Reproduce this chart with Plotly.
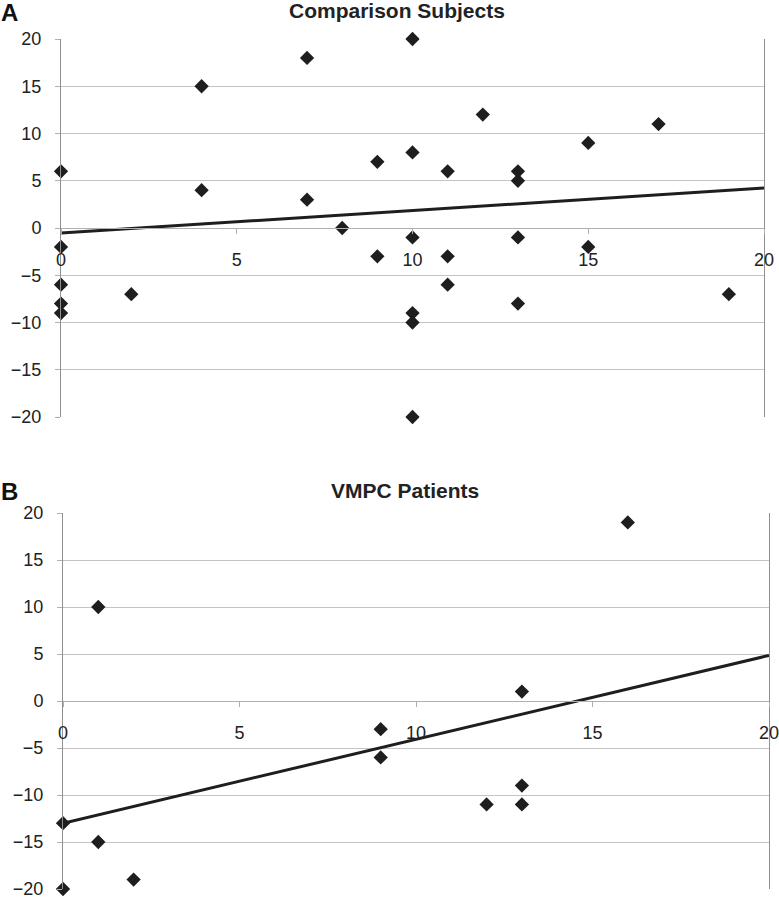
import plotly.graph_objects as go

W, H = 779, 899

# Panel A: Comparison Subjects
a_x = [0, 0, 0, 0, 0, 2, 4, 4, 7, 7, 8, 9, 9, 10, 10, 10, 10, 10, 10, 11, 11, 11, 12, 13, 13, 13, 13, 15, 15, 17, 19]
a_y = [6, -2, -6, -8, -9, -7, 15, 4, 18, 3, 0, 7, -3, 20, 8, -1, -9, -10, -20, 6, -3, -6, 12, 6, 5, -1, -8, 9, -2, 11, -7]
a_trend_x = [0, 20]
a_trend_y = [-0.53, 4.22]

# Panel B: VMPC Patients
b_x = [0, 0, 1, 1, 2, 9, 9, 12, 13, 13, 13, 16]
b_y = [-13, -20, 10, -15, -19, -3, -6, -11, 1, -9, -11, 19]
b_trend_x = [0, 20]
b_trend_y = [-13.0, 4.85]

x_ticks = [0, 5, 10, 15, 20]
y_ticks = [-20, -15, -10, -5, 0, 5, 10, 15, 20]

titles = ["Comparison Subjects", "VMPC Patients"]
letters = ["A", "B"]

FONT = "Liberation Sans, Arial, sans-serif"
DARK = "#1e1e1e"
TXT = "#222222"

def px_x(p):
    return p / W

def px_y(p):
    return 1 - p / H

fig = go.Figure()

panels = [
    dict(xs=a_x, ys=a_y, tx=a_trend_x, ty=a_trend_y, left=61, right=764, top=39, bottom=417,
         title_x=397, title_y=11, letter_y=13),
    dict(xs=b_x, ys=b_y, tx=b_trend_x, ty=b_trend_y, left=63, right=769, top=513, bottom=889,
         title_x=405, title_y=490, letter_y=491),
]

layout = dict(
    template="none",
    width=W, height=H,
    margin=dict(l=0, r=0, t=0, b=0, autoexpand=False),
    paper_bgcolor="white", plot_bgcolor="white",
    showlegend=False,
    font=dict(family=FONT, color=TXT, size=18),
)

annotations = []
for i, p in enumerate(panels):
    n = "" if i == 0 else str(i + 1)
    xa, ya = "x" + n, "y" + n
    fig.add_trace(go.Scatter(x=p["tx"], y=p["ty"], mode="lines",
                             line=dict(color=DARK, width=3),
                             xaxis=xa, yaxis=ya, cliponaxis=False))
    fig.add_trace(go.Scatter(x=p["xs"], y=p["ys"], mode="markers",
                             marker=dict(symbol="diamond", size=11, color=DARK, line=dict(width=0)),
                             xaxis=xa, yaxis=ya, cliponaxis=False))
    ydom = [px_y(p["bottom"]), px_y(p["top"])]
    xdom = [px_x(p["left"]), px_x(p["right"])]
    layout["xaxis" + n] = dict(
        domain=xdom, range=[0, 20], anchor="free", position=(ydom[0] + ydom[1]) / 2,
        tickmode="array", tickvals=x_ticks, ticktext=[str(v) for v in x_ticks],
        showgrid=False, zeroline=False, showline=True, linecolor="#b0b0b0", linewidth=1,
        ticks="outside", ticklen=5, tickcolor="#b0b0b0", ticklabelstandoff=10,
        ticklabeloverflow="allow",
        tickfont=dict(size=18, color=TXT, family=FONT), automargin=False,
    )
    layout["yaxis" + n] = dict(
        domain=ydom, range=[-20, 20], anchor=xa,
        tickmode="array", tickvals=y_ticks,
        showgrid=True, gridcolor="#c4c4c4", gridwidth=1,
        zeroline=False, showline=True, mirror=True, linecolor="#909090", linewidth=1,
        ticks="outside", ticklen=5, tickcolor="#b0b0b0", ticklabelstandoff=10,
        ticklabeloverflow="allow",
        tickfont=dict(size=18, color=TXT, family=FONT), automargin=False,
    )
    annotations.append(dict(text="<b>" + titles[i] + "</b>", x=px_x(p["title_x"]), y=px_y(p["title_y"]),
                            xref="paper", yref="paper", showarrow=False,
                            font=dict(size=21, color=TXT, family=FONT), xanchor="center", yanchor="middle"))
    annotations.append(dict(text="<b>" + letters[i] + "</b>", x=px_x(-1), y=px_y(p["letter_y"]),
                            xref="paper", yref="paper", showarrow=False,
                            font=dict(size=24, color="#111111", family=FONT), xanchor="left", yanchor="middle"))

layout["annotations"] = annotations
fig.update_layout(**layout)
fig.write_html("out.html", config={"displayModeBar": False},
               post_script="document.body.style.margin='0px';document.body.style.overflow='hidden';")
